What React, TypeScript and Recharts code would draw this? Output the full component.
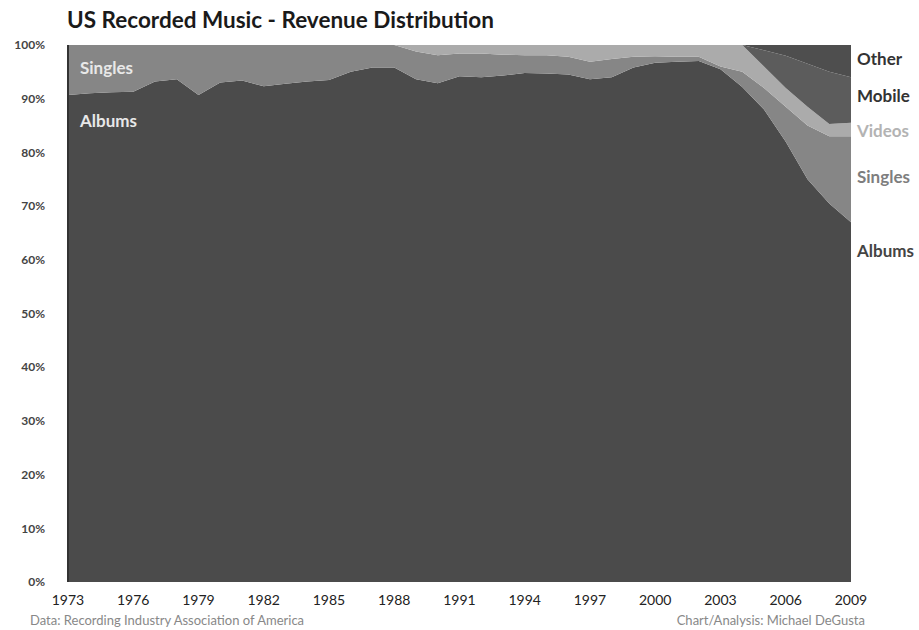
import React from 'react';
import { AreaChart, Area, XAxis, YAxis } from 'recharts';

const years = [1973, 1974, 1975, 1976, 1977, 1978, 1979, 1980, 1981, 1982, 1983, 1984, 1985, 1986, 1987, 1988, 1989, 1990, 1991, 1992, 1993, 1994, 1995, 1996, 1997, 1998, 1999, 2000, 2001, 2002, 2003, 2004, 2005, 2006, 2007, 2008, 2009];
const albums = [90.7, 91, 91.2, 91.3, 93.2, 93.6, 90.7, 93, 93.4, 92.3, 92.8, 93.2, 93.5, 95, 95.8, 95.8, 93.6, 92.9, 94.2, 94, 94.3, 94.8, 94.7, 94.5, 93.6, 94, 95.8, 96.7, 96.9, 97, 95.5, 92.2, 88, 82, 75, 70.5, 67];
const singles = [9.3, 9, 8.8, 8.7, 6.8, 6.4, 9.3, 7, 6.6, 7.7, 7.2, 6.8, 6.5, 5, 4.2, 4.2, 5.2, 5.2, 4.2, 4.4, 3.9, 3.3, 3.4, 3.3, 3.3, 3.4, 2, 1.2, 0.9, 0.8, 0.5, 2.8, 4, 6.5, 10, 12.5, 16];
const videos = [0, 0, 0, 0, 0, 0, 0, 0, 0, 0, 0, 0, 0, 0, 0, 0, 1.2, 1.9, 1.6, 1.6, 1.8, 1.9, 1.9, 2.2, 3.1, 2.6, 2.2, 2.1, 2.2, 2.2, 4, 5, 4, 3.5, 3.5, 2.3, 2.5];
const mobile = [0, 0, 0, 0, 0, 0, 0, 0, 0, 0, 0, 0, 0, 0, 0, 0, 0, 0, 0, 0, 0, 0, 0, 0, 0, 0, 0, 0, 0, 0, 0, 0, 3, 6, 8, 9.7, 8.5];
const other = [0, 0, 0, 0, 0, 0, 0, 0, 0, 0, 0, 0, 0, 0, 0, 0, 0, 0, 0, 0, 0, 0, 0, 0, 0, 0, 0, 0, 0, 0, 0, 0, 1, 2, 3.5, 5, 6];
const xTicks = [1973, 1976, 1979, 1982, 1985, 1988, 1991, 1994, 1997, 2000, 2003, 2006, 2009];
const yTicks = [0, 10, 20, 30, 40, 50, 60, 70, 80, 90, 100];

const font = 'Lato, "Open Sans", sans-serif';

export default function App() {
  const data = years.map((y, i) => ({
    year: y,
    albums: albums[i],
    singles: singles[i],
    videos: videos[i],
    mobile: mobile[i],
    other: other[i],
  }));
  const rightLabel = (text: string, y: number, color: string) => (
    <div style={{ position: 'absolute', left: 857, top: y - 10, lineHeight: '20px', fontSize: 17, fontWeight: 700, color, fontFamily: font }}>{text}</div>
  );
  return (
    <div style={{ position: 'absolute', left: 0, top: 0, width: 919, height: 630, background: '#fff', fontFamily: font }}>
      <AreaChart width={919} height={630} data={data} margin={{ top: 45, right: 68, bottom: 28, left: 8 }}>
        <XAxis
          type="number"
          dataKey="year"
          domain={[1973, 2009]}
          ticks={xTicks}
          interval={0}
          axisLine={false}
          tickLine={false}
          tickMargin={7}
          height={20}
          tick={{ fontSize: 14, fill: '#222', fontFamily: font }}
        />
        <YAxis
          type="number"
          domain={[0, 100]}
          ticks={yTicks}
          interval={0}
          width={60}
          tickLine={false}
          tickSize={0}
          tickMargin={23}
          axisLine={{ stroke: '#333', strokeWidth: 2 }}
          tickFormatter={(v: number) => v + '%'}
          tick={{ fontSize: 12, fill: '#444', fontWeight: 700, fontFamily: font }}
        />
        <Area type="linear" dataKey="albums" stackId="1" stroke="none" fill="#4b4b4b" fillOpacity={1} isAnimationActive={false} />
        <Area type="linear" dataKey="singles" stackId="1" stroke="none" fill="#868686" fillOpacity={1} isAnimationActive={false} />
        <Area type="linear" dataKey="videos" stackId="1" stroke="none" fill="#ababab" fillOpacity={1} isAnimationActive={false} />
        <Area type="linear" dataKey="mobile" stackId="1" stroke="none" fill="#5c5c5c" fillOpacity={1} isAnimationActive={false} />
        <Area type="linear" dataKey="other" stackId="1" stroke="none" fill="#4e4e4e" fillOpacity={1} isAnimationActive={false} />
      </AreaChart>
      <div style={{ position: 'absolute', left: 67, top: 7, lineHeight: '26px', fontSize: 22.5, fontWeight: 700, color: '#1a1a1a' }}>US Recorded Music - Revenue Distribution</div>
      <div style={{ position: 'absolute', left: 80, top: 58, lineHeight: '20px', fontSize: 17, fontWeight: 700, color: '#e8e8e8' }}>Singles</div>
      <div style={{ position: 'absolute', left: 80, top: 111, lineHeight: '20px', fontSize: 17, fontWeight: 700, color: '#e8e8e8' }}>Albums</div>
      {rightLabel('Other', 59, '#333')}
      {rightLabel('Mobile', 96, '#333')}
      {rightLabel('Videos', 131, '#b3b3b3')}
      {rightLabel('Singles', 177, '#7e7e7e')}
      {rightLabel('Albums', 251, '#444')}
      <div style={{ position: 'absolute', left: 30, top: 612, lineHeight: '16px', fontSize: 13, color: '#888' }}>Data: Recording Industry Association of America</div>
      <div style={{ position: 'absolute', right: 54, top: 612, lineHeight: '16px', fontSize: 13, color: '#888' }}>Chart/Analysis: Michael DeGusta</div>
    </div>
  );
}
